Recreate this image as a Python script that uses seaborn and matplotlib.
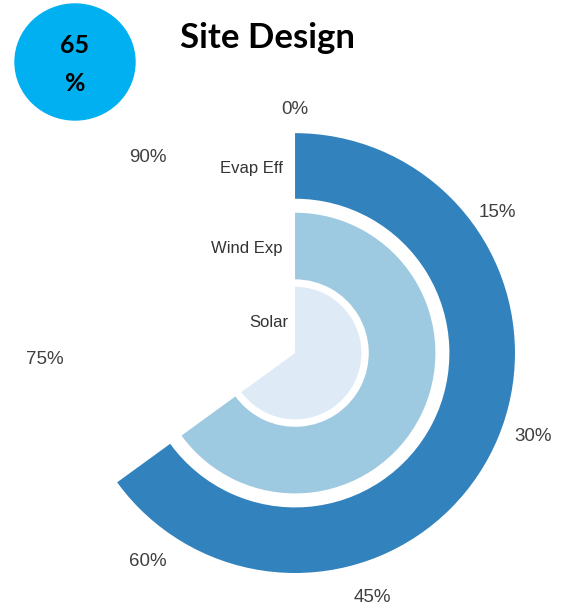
import numpy as np
import pandas as pd
import matplotlib
matplotlib.use("Agg")
import matplotlib.pyplot as plt
from matplotlib.patches import Ellipse
import seaborn as sns

# Ring data (percent of a full turn), outermost first
categories = ["Evap Eff", "Wind Exp", "Solar"]
values_pct = [65, 65, 65]
ring_colors = ["#3182bd", "#9ecae1", "#deebf7"]

tick_pct = [0, 15, 30, 45, 60, 75, 90]
tick_labels = [f"{t}%" for t in tick_pct]

score_text = "65\n%"
title_text = "Site Design"

sns.set_theme(style="white")
plt.rcParams["font.family"] = ["Liberation Sans", "DejaVu Sans"]

# radial centre of each ring (outer ring has the largest radius)
ring_centers = [2.56, 1.46, 0.45]

df = pd.DataFrame({
    "category": categories,
    "theta": np.deg2rad(np.array(values_pct) * 3.6),
    "radius": ring_centers,
})

fig = plt.figure(figsize=(5.62, 6.05), dpi=100)
ax = fig.add_axes([0.1335, 0.0529, 0.783, 0.727], projection="polar")
ax.set_theta_zero_location("N")
ax.set_theta_direction(-1)

sns.barplot(
    data=df, x="theta", y="radius", hue="category", orient="h",
    native_scale=True, palette=dict(zip(categories, ring_colors)),
    width=0.9, saturation=1, legend=False, ax=ax, linewidth=0,
)

ax.set_ylim(0, 3.0)
ax.set_xlim(0, 2 * np.pi)
ax.set_yticks([])
tick_theta = np.deg2rad(np.array(tick_pct) * 3.6)
ax.set_xticks(tick_theta)
ax.set_xticklabels([])
ax.tick_params(axis="x", length=0)
ax.grid(False)
ax.spines["polar"].set_visible(False)
ax.set_xlabel("")
ax.set_ylabel("")

# angular scale labels on a ring just outside the bars
for th, lab in zip(tick_theta, tick_labels):
    ax.annotate(lab, xy=(th, 3.41), xytext=(0, -4.5), textcoords="offset points",
                ha="center", va="center", fontsize=13.5, color="#404040",
                annotation_clip=False)

label_offsets = [-9, -9, -5]
for cat, r, off in zip(categories, ring_centers, label_offsets):
    ax.annotate(cat, xy=(0, r), xytext=(off, -2), textcoords="offset points",
                ha="right", va="center", fontsize=12, color="#333333")

# score badge and heading
fig.add_artist(Ellipse((75 / 562, 1 - 62 / 605), width=120 / 562, height=116 / 605,
                       transform=fig.transFigure, color="#00B0F0", zorder=0))
fig.text(75 / 562, 1 - 64.5 / 605, score_text, ha="center", va="center",
         fontsize=18, fontweight="bold", family=["Lato", "DejaVu Sans"],
         linespacing=1.75, color="black")
fig.text(267 / 562, 1 - 38 / 605, title_text, ha="center", va="center",
         fontsize=25, fontweight="bold", family=["Lato", "DejaVu Sans"], color="black")

fig.savefig("out.png", dpi=100)
